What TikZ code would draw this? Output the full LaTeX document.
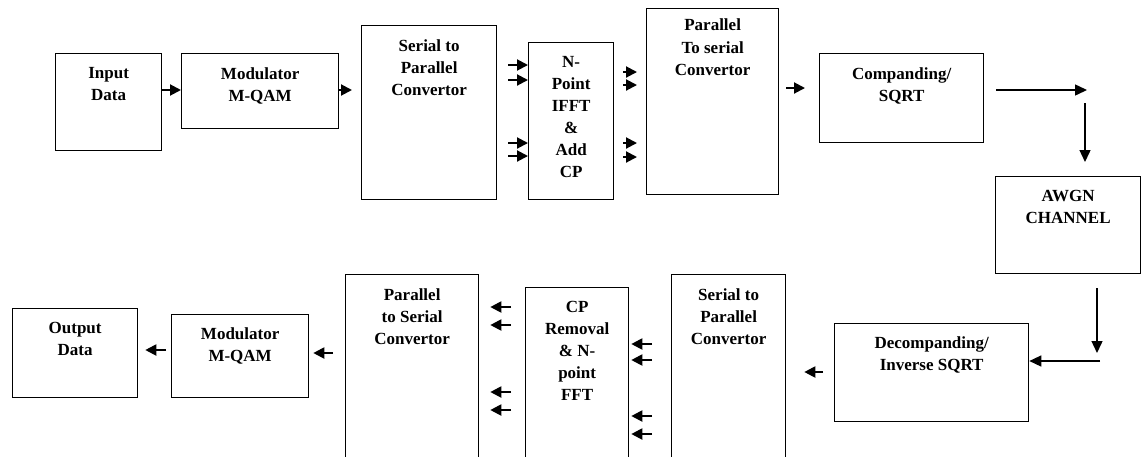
\documentclass[tikz,border=0pt]{standalone}
\usepackage{fontspec}
\setmainfont{Liberation Serif}
\usepackage{tikz}
\usetikzlibrary{positioning,calc,arrows.meta}

\begin{document}
\begin{tikzpicture}[x=1pt, y=-1pt,
    blk/.style={draw, line width=1.3pt, inner sep=0pt, anchor=north west},
    txt/.style={anchor=north, yshift=-14pt, align=center, inner sep=0pt,
        font=\bfseries\fontsize{17}{22}\selectfont},
    arr/.style={line width=2pt, -{Triangle[length=11pt,width=11pt]}},
    longarr/.style={line width=1.4pt, -{Triangle[length=12pt,width=11pt]}}]
    \clip (0,0) rectangle (1142,456);

    % Transmitter
    \node[blk, minimum width=106, minimum height=97, label={[txt]north:Input\\Data}] (inData) at (55,53) {};
    \node[blk, minimum width=157, minimum height=75, label={[txt]north:Modulator\\M-QAM}] (modA) at (181,53) {};
    \node[blk, minimum width=135, minimum height=174, label={[txt]north:Serial to\\Parallel\\Convertor}] (s2pA) at (361,25) {};
    \node[blk, minimum width=85, minimum height=157, label={[txt]north:N-\\Point\\IFFT\\\&\\Add\\CP}] (ifft) at (528,42) {};
    \node[blk, minimum width=132, minimum height=186, label={[txt, yshift=3pt]north:Parallel\\To serial\\Convertor}] (p2sA) at (646,8) {};
    \node[blk, minimum width=164, minimum height=89, label={[txt]north:Companding/\\SQRT}] (comp) at (819,53) {};

    % Channel
    \node[blk, minimum width=145, minimum height=97, label={[txt]north:AWGN\\CHANNEL}] (awgn) at (995,176) {};

    % Receiver
    \node[blk, minimum width=194, minimum height=98, label={[txt, yshift=1pt]north:Decompanding/\\Inverse SQRT}] (decomp) at (834,323) {};
    \node[blk, minimum width=114, minimum height=200, label={[txt]north:Serial to\\Parallel\\Convertor}] (s2pB) at (671,274) {};
    \node[blk, minimum width=103, minimum height=190, label={[txt]north:CP\\Removal\\\& N-\\point\\FFT}] (fft) at (525,287) {};
    \node[blk, minimum width=133, minimum height=200, label={[txt]north:Parallel\\to Serial\\Convertor}] (p2sB) at (345,274) {};
    \node[blk, minimum width=137, minimum height=83, label={[txt, yshift=1pt]north:Modulator\\M-QAM}] (modB) at (171,314) {};
    \node[blk, minimum width=125, minimum height=89, label={[txt]north:Output\\Data}] (outData) at (12,308) {};

    % Corner points of the channel path
    \coordinate (tA) at (1087,90);
    \coordinate (tB) at (1085,103);
    \coordinate (tC) at (1097,353);
    \coordinate (tD) at (1100,361);

    % Arrows, top row
    \draw[arr] (inData.east |- 0,90) -- (modA.west |- 0,90);
    \draw[arr, shorten >=9pt] (modA.east |- 0,90) -- (s2pA.west |- 0,90);
    \foreach \y in {65,80,143,156}
        \draw[arr, shorten <=11pt] (s2pA.east |- 0,\y) -- (ifft.west |- 0,\y);
    \foreach \y in {72,85,143,157}
        \draw[arr, shorten <=9pt, shorten >=9pt] (ifft.east |- 0,\y) -- (p2sA.west |- 0,\y);
    \draw[arr, shorten <=7pt, shorten >=14pt] (p2sA.east |- 0,88) -- (comp.west |- 0,88);
    \draw[longarr, shorten <=12pt] (comp.east |- tA) -- (tA);
    \draw[longarr, shorten >=14pt] (tB) -- (tB |- awgn.north);

    % Arrows, bottom row
    \draw[longarr, shorten <=14pt] (tC |- awgn.south) -- (tC);
    \draw[longarr] (tD) -- (decomp.east |- tD);
    \draw[arr, shorten <=11pt, shorten >=18pt] (decomp.west |- 0,372) -- (s2pB.east |- 0,372);
    \foreach \y in {344,360,416,434}
        \draw[arr, shorten <=19pt, shorten >=2pt] (s2pB.west |- 0,\y) -- (fft.east |- 0,\y);
    \foreach \y in {307,325,392,410}
        \draw[arr, shorten <=14pt, shorten >=11pt] (fft.west |- 0,\y) -- (p2sB.east |- 0,\y);
    \draw[arr, shorten <=12pt, shorten >=4pt] (p2sB.west |- 0,353) -- (modB.east |- 0,353);
    \draw[arr, shorten <=5pt, shorten >=7pt] (modB.west |- 0,350) -- (outData.east |- 0,350);
\end{tikzpicture}
\end{document}
